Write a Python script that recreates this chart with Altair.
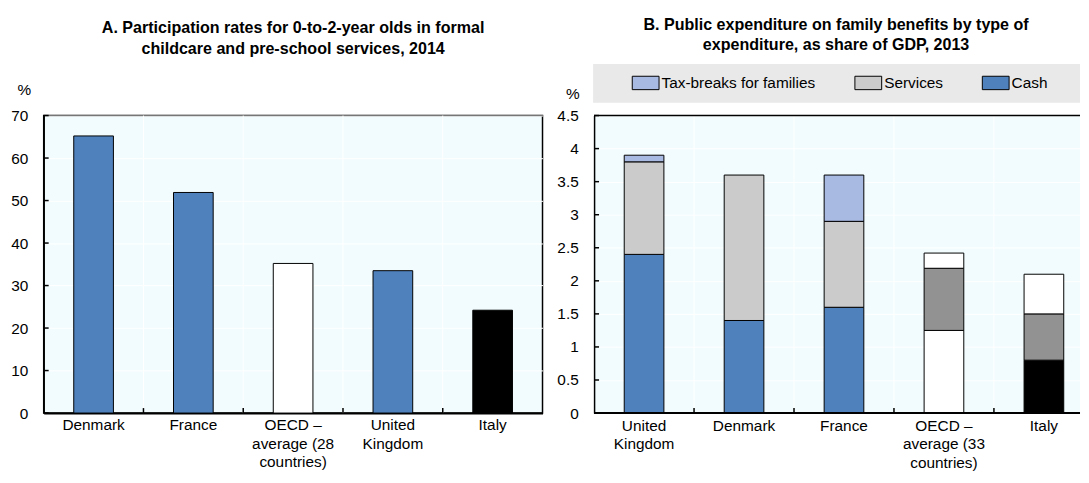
import altair as alt
import pandas as pd

# ---------------- data ----------------
countries_a = ["Denmark", "France", "OECD –\naverage (28\ncountries)", "United\nKingdom", "Italy"]
rates_a = [65.2, 51.9, 35.2, 33.5, 24.2]
ticks_a = [0, 10, 20, 30, 40, 50, 60, 70]
colors_a = ["#4f81bd", "#4f81bd", "#ffffff", "#4f81bd", "#000000"]

countries_b = ["United\nKingdom", "Denmark", "France", "OECD –\naverage (33\ncountries)", "Italy"]
cash_b = [2.4, 1.4, 1.6, 1.25, 0.8]
services_b = [1.4, 2.2, 1.3, 0.94, 0.7]
tax_b = [0.1, 0.0, 0.7, 0.23, 0.6]
ticks_b = [0, 0.5, 1, 1.5, 2, 2.5, 3, 3.5, 4, 4.5]
types_b = ["Tax-breaks for families", "Services", "Cash"]

title_a = ["A. Participation rates for 0-to-2-year olds in formal",
           "childcare and pre-school services, 2014"]
title_b = ["B. Public expenditure on family benefits by type of",
           "expenditure, as share of GDP, 2013"]

# ---------------- styles ----------------
FONT = "Liberation Sans"
BG = "#f2fcfe"
FS = 15.5
H = 300
WA = 503
WB = 490
LP = 5
LH = 18.5

keys_b = ["Cash", "Services", "Tax-breaks for families",
          "OECD Cash", "OECD Services", "OECD Tax",
          "Italy Cash", "Italy Services", "Italy Tax"]
colors_b = ["#4f81bd", "#cbcbcb", "#a8b9e2",
            "#ffffff", "#929292", "#ffffff",
            "#000000", "#929292", "#ffffff"]


def x_axis():
    return alt.Axis(title=None, labelAngle=0, ticks=False, labelPadding=LP,
                    labelExpr="split(datum.label, '\\n')", labelLineHeight=LH,
                    labelBaseline="top", domainColor="black",
                    domainWidth=2, grid=False, labelFontSize=FS, labelColor="black",
                    labelFont=FONT)


def y_axis(values, tx, ty):
    return alt.Axis(values=values, title="%", titleAngle=0, titleX=tx, titleY=ty,
                    titleAlign="center", titleBaseline="middle", titleFontWeight="normal",
                    titleFontSize=FS, titleFont=FONT, titleColor="black",
                    ticks=False, labelPadding=16, grid=True, gridColor="#ffffff",
                    gridWidth=1, domainColor="black", domainWidth=1.5,
                    labelOverlap=False, labelFontSize=FS, labelColor="black",
                    labelFont=FONT, format="~f")


def helpers(cats, ticks, xax, yax):
    grid = alt.Chart(pd.DataFrame({"country": cats[1:]})).mark_rule(
        color="#ffffff", strokeWidth=1).encode(
        x=alt.X("country:N", sort=cats, bandPosition=0, axis=xax),
        y=alt.value(0), y2=alt.value(H))
    xt = alt.Chart(pd.DataFrame({"country": cats[1:]})).mark_rule(
        color="black", strokeWidth=1.5).encode(
        x=alt.X("country:N", sort=cats, bandPosition=0, axis=xax),
        y=alt.value(H), y2=alt.value(H - 5))
    yt = alt.Chart(pd.DataFrame({"value": ticks})).mark_rule(
        color="black", strokeWidth=1.5).encode(
        y=alt.Y("value:Q", axis=yax), x=alt.value(0), x2=alt.value(5))
    return grid, xt, yt


# ---------------- panel A ----------------
df_a = pd.DataFrame({"country": countries_a, "value": rates_a})
xax_a = x_axis()
yax_a = y_axis(ticks_a, -20, -26)
bars_a = alt.Chart(df_a).mark_bar(size=40, stroke="black", strokeWidth=1).encode(
    x=alt.X("country:N", sort=countries_a,
            scale=alt.Scale(paddingInner=0, paddingOuter=0), axis=xax_a),
    y=alt.Y("value:Q", scale=alt.Scale(domain=[0, 70]), axis=yax_a),
    color=alt.Color("country:N", scale=alt.Scale(domain=countries_a, range=colors_a),
                    legend=None),
)
g_a, xt_a, yt_a = helpers(countries_a, ticks_a, xax_a, yax_a)
panel_a = alt.layer(bars_a, g_a, xt_a, yt_a).properties(
    width=WA, height=H,
    title=alt.TitleParams(text=title_a, fontSize=16.2, fontWeight="bold", font=FONT,
                          lineHeight=21, anchor="middle", frame="group",
                          offset=26, color="black"),
    view=alt.ViewBackground(fill=BG, stroke="black", strokeWidth=1.5),
)

# ---------------- panel B ----------------
rows = []
for i, c in enumerate(countries_b):
    prefix = ""
    if c.startswith("OECD"):
        prefix = "OECD "
    elif c == "Italy":
        prefix = "Italy "
    for t, vals, o in [("Cash", cash_b, 0), ("Services", services_b, 1),
                       ("Tax-breaks for families", tax_b, 2)]:
        if vals[i] > 0:
            if prefix:
                key = prefix + ("Tax" if t.startswith("Tax") else t)
            else:
                key = t
            rows.append({"country": c, "type": t, "value": vals[i], "key": key, "ord": o})
df_b = pd.DataFrame(rows)

yax_b = y_axis(ticks_b, -22, -22)
xs_b = alt.Scale(paddingInner=0, paddingOuter=0, range=[0, 504])
bars_b = alt.Chart(df_b).mark_bar(size=40, stroke="black", strokeWidth=1).encode(
    x=alt.X("country:N", sort=countries_b, scale=xs_b, axis=None),
    y=alt.Y("value:Q", stack="zero", scale=alt.Scale(domain=[0, 4.5]), axis=yax_b),
    order=alt.Order("ord:Q"),
    color=alt.Color("key:N", scale=alt.Scale(domain=keys_b, range=colors_b),
                    legend=alt.Legend(values=types_b, orient="none", legendX=38,
                                      legendY=-47, direction="horizontal", title=None,
                                      padding=0, symbolType="M-1,-0.5H1V0.5H-1Z",
                                      symbolSize=729, symbolStrokeColor="black",
                                      symbolStrokeWidth=1, symbolOpacity=1,
                                      labelFontSize=15.5, labelFont=FONT,
                                      labelColor="black", labelOffset=2,
                                      labelLimit=400, columnPadding=36.5)),
)
g_b, xt_b, yt_b = helpers(countries_b, ticks_b, None, yax_b)
labels_b = alt.Chart(pd.DataFrame({"country": countries_b})).mark_text(
    baseline="top", align="center", lineBreak="\n", lineHeight=LH, fontSize=FS,
    font=FONT, color="black").encode(
    x=alt.X("country:N", sort=countries_b, axis=None),
    y=alt.value(H + LP + 1), text="country:N")
top_b = alt.Chart(alt.Data(values=[{}])).mark_rule(color="black", strokeWidth=1.5).encode(
    x=alt.value(0), x2=alt.value(WB), y=alt.value(0))
bottom_b = alt.Chart(alt.Data(values=[{}])).mark_rule(color="black", strokeWidth=2).encode(
    x=alt.value(0), x2=alt.value(WB), y=alt.value(H))
leg_bg = alt.Chart(alt.Data(values=[{}])).mark_rect(color="#e9e9e9").encode(
    x=alt.value(-1), x2=alt.value(WB), y=alt.value(-52), y2=alt.value(-13))

panel_b = alt.layer(leg_bg, bars_b, g_b, xt_b, yt_b, labels_b, top_b, bottom_b).properties(
    width=WB, height=H,
    title=alt.TitleParams(text=title_b, fontSize=16.2, fontWeight="bold", font=FONT,
                          lineHeight=21, anchor="middle", frame="group",
                          offset=10.5, color="black", dx=-1),
    view=alt.ViewBackground(fill=BG, stroke=None),
)

chart = alt.hconcat(panel_a, panel_b, spacing=13).properties(
    padding={"left": 2, "top": 6.5, "right": 0, "bottom": 0}
).resolve_scale(
    color="independent", x="independent", y="independent"
).resolve_legend(color="independent").configure(font=FONT)

chart.save("out.html", embed_options={"renderer": "svg", "actions": False})
